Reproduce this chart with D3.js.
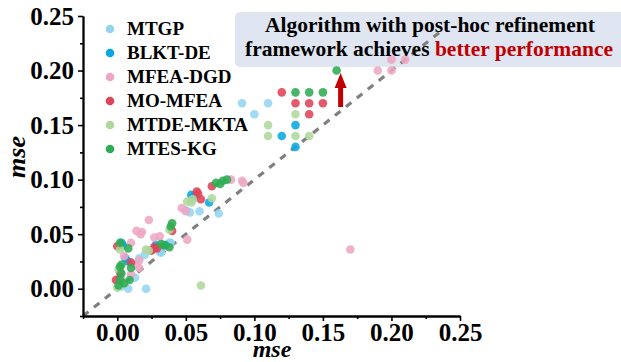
<!DOCTYPE html>
<html>
<head>
<meta charset="utf-8">
<script src="https://cdn.jsdelivr.net/npm/d3@7"></script>
<style>
  body { margin: 0; background: #fff; }
  svg { display: block; }
</style>
</head>
<body>
<svg id="chart" width="621" height="362"></svg>
<script>
// series names + colours (legend order)
var seriesNames = ["MTGP", "BLKT-DE", "MFEA-DGD", "MO-MFEA", "MTDE-MKTA", "MTES-KG"];
var seriesColors = ["#93d5f1", "#0aa7e2", "#eea6c4", "#df4357", "#b0d79c", "#2fac53"];

// [x mse, y mse]
var mtgp = [[0.091,0.17],[0.10,0.16],[0.11,0.17],[0.074,0.069],[0.060,0.071],[0.053,0.070],[0.039,0.042],
  [0.032,0.033],[0.038,0.042],[0.031,0.034],[0.020,0.031],[0.013,0.010],[0.008,0.0],[0.021,0.0],
  [0.003,0.002],[0.016,0.028],[0.025,0.035],[0.056,0.083],[0.050,0.072]];
var blktDe = [[0.12,0.14],[0.13,0.15],[0.13,0.13],[0.054,0.086],[0.067,0.079],[0.006,0.028],[0.003,0.042],
  [0.028,0.040],[0.002,0.010],[0.056,0.085],[0.008,0.025],[0.035,0.040],[0.004,0.040]];
var mfeaDgd = [[0.19,0.20],[0.20,0.20],[0.20,0.21],[0.21,0.21],[0.17,0.036],[0.091,0.099],[0.092,0.097],
  [0.083,0.10],[0.047,0.074],[0.050,0.071],[0.051,0.045],[0.023,0.063],[0.014,0.053],[0.018,0.052],
  [0.017,0.050],[0.027,0.047],[0.031,0.048],[0.010,0.042],[0.016,0.026],[0.016,0.019],[0.010,0.013],
  [0.005,0.030],[0.013,0.022],[0.003,0.008]];
var moMfea = [[0.12,0.18],[0.13,0.17],[0.14,0.17],[0.15,0.17],[0.14,0.16],[0.069,0.094],[0.059,0.087],
  [0.061,0.082],[0.040,0.053],[0.027,0.038],[0.029,0.037],[0.0,0.039],[0.010,0.024],[-0.001,0.008],
  [0.025,0.035],[0.002,0.015],[0.058,0.089]];
var mtdeMkta = [[0.11,0.15],[0.11,0.14],[0.13,0.16],[0.13,0.14],[0.14,0.14],[0.061,0.003],[0.054,0.079],
  [0.069,0.083],[0.051,0.080],[0.055,0.082],[0.038,0.054],[0.021,0.036],[0.023,0.035],[0.002,0.036],
  [0.0,0.001],[0.003,0.004],[0.001,0.018]];
var mtesKg = [[0.13,0.18],[0.14,0.18],[0.15,0.18],[0.16,0.20],[0.072,0.097],[0.077,0.099],[0.080,0.10],
  [0.075,0.096],[0.039,0.057],[0.040,0.060],[0.034,0.040],[0.038,0.038],[0.032,0.041],[0.002,0.042],
  [0.008,0.037],[0.002,0.020],[0.003,0.014],[0.002,0.008],[0.001,0.003],[0.010,0.019],[0.009,0.008],
  [0.003,0.022],[0.005,0.005]];
var allSeries = [mtgp, blktDe, mfeaDgd, moMfea, mtdeMkta, mtesKg];

var tickVals = [0.00, 0.05, 0.10, 0.15, 0.20, 0.25];
var minorVals = [-0.025, 0.025, 0.075, 0.125, 0.175, 0.225];
var diagEnds = [-0.025, 0.235];

var svg = d3.select("#chart");
var font = "'Liberation Serif', 'Times New Roman', serif";

var x = d3.scaleLinear().domain([-0.025, 0.25]).range([83, 460]);
var y = d3.scaleLinear().domain([-0.025, 0.25]).range([316, 16]);

// annotation box (under the data)
svg.append("rect")
  .attr("x", 235).attr("y", 12).attr("width", 392).attr("height", 55)
  .attr("rx", 5)
  .style("fill", "#dfe6f2");

// y = x reference line
svg.append("line")
  .attr("x1", x(diagEnds[0])).attr("y1", y(diagEnds[0]))
  .attr("x2", x(diagEnds[1])).attr("y2", y(diagEnds[1]))
  .style("stroke", "#808080")
  .style("stroke-width", 3.2)
  .style("stroke-dasharray", "7,7");

// points
allSeries.forEach(function(pts, i) {
  svg.append("g").selectAll("circle")
    .data(pts)
    .enter().append("circle")
    .attr("cx", function(d) { return x(d[0]); })
    .attr("cy", function(d) { return y(d[1]); })
    .attr("r", 4.3)
    .style("fill", seriesColors[i])
    .style("fill-opacity", 0.88);
});

// axes
var xAxis = svg.append("g").attr("transform", "translate(0,316)")
  .call(d3.axisBottom(x).tickValues(tickVals).tickFormat(d3.format(".2f")).tickSize(5).tickSizeOuter(0));
var xMinor = svg.append("g").attr("transform", "translate(0,316)")
  .call(d3.axisBottom(x).tickValues(minorVals).tickFormat("").tickSize(3).tickSizeOuter(0));
var yAxis = svg.append("g").attr("transform", "translate(83,0)")
  .call(d3.axisLeft(y).tickValues(tickVals).tickFormat(d3.format(".2f")).tickSize(5).tickSizeOuter(0));
var yMinor = svg.append("g").attr("transform", "translate(83,0)")
  .call(d3.axisLeft(y).tickValues(minorVals).tickFormat("").tickSize(3).tickSizeOuter(0));

[xAxis, xMinor, yAxis, yMinor].forEach(function(g) {
  g.selectAll(".domain").style("stroke", "#000").style("stroke-width", 1.8);
  g.selectAll(".tick line").style("stroke", "#000").style("stroke-width", 1.6);
  g.selectAll("text")
    .style("font-family", font)
    .style("font-weight", "bold")
    .style("font-size", "25px")
    .style("fill", "#000");
});
xAxis.selectAll("text").attr("y", 7).attr("dy", "0.7em");
yAxis.selectAll("text").attr("x", -9);

// axis titles
svg.append("text")
  .attr("x", 272).attr("y", 357)
  .attr("text-anchor", "middle")
  .style("font-family", font).style("font-weight", "bold").style("font-style", "italic")
  .style("font-size", "24px")
  .text("mse");
svg.append("text")
  .attr("transform", "translate(25,157) rotate(-90)")
  .attr("text-anchor", "middle")
  .style("font-family", font).style("font-weight", "bold").style("font-style", "italic")
  .style("font-size", "26px")
  .text("mse");

// legend
var legend = svg.append("g");
seriesNames.forEach(function(name, i) {
  var ly = 29 + i * 24;
  legend.append("circle")
    .attr("cx", 110).attr("cy", ly).attr("r", 4.3)
    .style("fill", seriesColors[i]);
  legend.append("text")
    .attr("x", 127).attr("y", ly + 6)
    .style("font-family", font).style("font-weight", "bold")
    .style("font-size", "19px")
    .text(name);
});

// arrow pointing up to the better point
var arrowX = x(0.16) + 4;
svg.append("rect")
  .attr("x", arrowX - 2.5).attr("y", 86).attr("width", 5).attr("height", 21)
  .style("fill", "#c00000");
svg.append("path")
  .attr("d", "M" + (arrowX - 6) + ",88 L" + arrowX + ",73 L" + (arrowX + 6) + ",88 Z")
  .style("fill", "#c00000");

// annotation text
var note = svg.append("text")
  .attr("text-anchor", "middle")
  .style("font-family", font).style("font-weight", "bold")
  .style("font-size", "21.5px");
note.append("tspan").attr("x", 430).attr("y", 32).text("Algorithm with post-hoc refinement");
var l2 = note.append("tspan").attr("x", 429).attr("y", 56);
l2.append("tspan").text("framework achieves ");
l2.append("tspan").style("fill", "#c00000").text("better performance");
</script>
</body>
</html>
